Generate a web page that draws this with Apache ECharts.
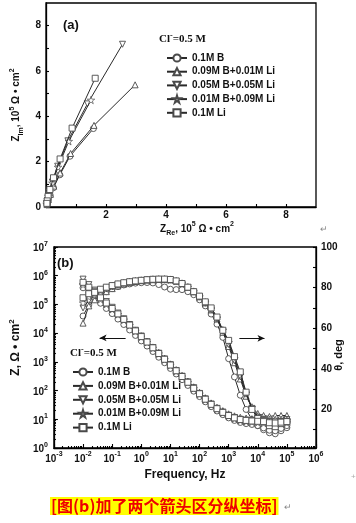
<!DOCTYPE html>
<html><head><meta charset="utf-8">
<script src="https://cdn.jsdelivr.net/npm/echarts@6/dist/echarts.min.js"></script>
<style>html,body{margin:0;padding:0;background:#fff}#c{width:356px;height:523px}</style>
</head><body><div id="c"></div>
<script>
const seriesNames = ['0.1M B','0.09M B+0.01M Li','0.05M B+0.05M Li','0.01M B+0.09M Li','0.1M Li'];

// Panel (a): Nyquist points [Z_Re, Z_Im] in 10^5 ohm cm2
const nyq_B   = [[1.58,3.46],[0.80,2.24],[0.46,1.42],[0.25,0.85],[0.14,0.52],[0.08,0.31],[0.05,0.18],[0.03,0.10]];
const nyq_B09 = [[2.97,5.39],[1.60,3.60],[0.82,2.36],[0.47,1.50],[0.26,0.92],[0.15,0.56],[0.08,0.33],[0.05,0.20],[0.03,0.12]];
const nyq_B05 = [[2.55,7.18],[1.38,4.55],[0.73,2.92],[0.39,1.80],[0.21,1.10],[0.11,0.66],[0.06,0.40],[0.04,0.24],[0.02,0.14]];
const nyq_B01 = [[1.50,4.72],[0.76,2.90],[0.40,1.76],[0.21,1.06],[0.11,0.64],[0.06,0.38],[0.04,0.23],[0.02,0.13]];
const nyq_Li  = [[1.64,5.68],[0.87,3.48],[0.47,2.12],[0.25,1.29],[0.13,0.77],[0.07,0.47],[0.04,0.27],[0.03,0.16]];

// Panel (b): frequencies (Hz)
const freq = [0.01,0.0158,0.0251,0.0398,0.0631,0.1,0.158,0.251,0.398,0.631,1,1.58,2.51,3.98,6.31,10,15.8,25.1,39.8,63.1,100,158,251,398,631,1000,1585,2512,3981,6310,10000,15850,25120,39810,63100,100000];

// |Z| (ohm cm2)
const zmod_B   = [380000,257000,170000,110000,72400,47900,30900,19950,12900,8320,5370,3550,2290,1450,933,589,380,240,151,95.5,61.7,40.7,27.5,19.5,14.5,11.2,9.12,7.76,7.08,6.61,6.03,5.01,4.17,3.98,4.79,6.03];
const zmod_B09 = [617000,417000,275000,178000,117000,75900,49000,31600,20400,12900,8130,5250,3310,2140,1350,851,537,339,214,135,87.1,56.2,37.2,26.3,20.0,15.5,13.2,11.7,11.0,10.5,10.2,10.2,10.0,10.0,10.2,10.2];
const zmod_B05 = [759000,490000,316000,200000,126000,79400,50100,31600,20000,12600,7940,5010,3160,2000,1260,794,501,316,200,126,79.4,51.3,33.9,24.0,17.8,13.8,11.5,10.0,9.33,8.91,8.71,8.51,8.32,8.13,8.32,8.51];
const zmod_B01 = [490000,339000,229000,151000,102000,67600,44700,28800,18600,11700,7410,4790,3020,1910,1200,759,479,302,191,117,75.9,49.0,32.4,22.9,17.0,13.2,10.7,9.33,8.51,8.13,7.76,7.41,7.08,6.92,7.24,7.59];
const zmod_Li  = [589000,398000,263000,170000,112000,72400,46800,30200,19100,12000,7590,4900,3090,1950,1230,776,490,309,195,120,77.6,50.1,33.1,23.4,17.4,13.5,11.2,9.77,9.12,8.71,8.51,8.32,7.59,7.41,7.94,8.32];

// phase angle theta (deg)
const theta_B   = [66,71.5,74.5,76.5,78,79.5,80.5,81.3,81.8,82.2,82.4,82.5,82.3,81.5,80.3,79.2,79,79,78,76.5,74,71,67,62,55.5,45,36,27,20,15,12,10,8.5,8,9.5,11];
const theta_B09 = [62.5,71,74,76.3,78,79.5,80.8,81.7,82.4,83,83.4,83.7,83.9,84,84,83.8,83.2,82,80.3,78,75.5,72.5,69,64.5,58,51,43,35,26.5,21,18,17,16.5,17,17,17];
const theta_B05 = [70,73.5,76,78,79.3,80.3,81.3,82,82.6,83,83.4,83.7,83.9,84,84,83.7,83,81.8,80,77.8,75.3,72.3,69,64.5,58.5,52,44,36,27.5,20.5,16,15,14,13.5,14,15];
const theta_B01 = [72.5,75.5,77.5,78.7,79.7,80.7,81.5,82.2,82.8,83.2,83.5,83.8,84,84.1,84.1,83.9,83.2,82,80.2,78,75.5,72.7,69.5,65,59,53,45,37,28,21,16.5,15,13.5,13,13.5,14.5];
const theta_Li  = [75,77,78.2,79.2,80.2,81,81.8,82.4,82.9,83.3,83.6,83.9,84.1,84.2,84.2,84,83.3,82,80.2,78,75.8,73,70,65.5,59,54,46,38.5,28.5,20,15.5,14.5,12,11.5,13,14];

// tick values
const aXLabels = [2,4,6,8];
const aYLabels = [0,2,4,6,8];
const aTicks = [1,2,3,4,5,6,7,8];
const thetaLabels = [20,40,60,80,100];
const thetaTicks = [10,20,30,40,50,60,70,80,90,100];

// arrow annotations (data coords)
const arrowLeft  = [[0.29,6800],[0.037,6800]];
const arrowRight = [[2340,55],[17000,55]];

const FONT = 'Liberation Sans, Arial, sans-serif';
const SERIF = 'Liberation Serif, Times New Roman, serif';
const STAR = 'path://M50,0 L61,35 L98,35 L68,57 L79,91 L50,70 L21,91 L32,57 L2,35 L39,35 Z';
const symbols = [['circle',0],['triangle',0],['triangle',180],[STAR,0],['rect',0]];

function minorLog(d0, d1){ const out=[]; for(let d=d0; d<d1; d++){ for(let k=2;k<=9;k++){ out.push(Math.log10(k)+d); } } return out; }

const richBase = {
  b:{fontSize:10, fontWeight:'bold', fontFamily:FONT, color:'#111', lineHeight:16},
  sup:{fontSize:7, fontWeight:'bold', fontFamily:FONT, color:'#111', lineHeight:7, verticalAlign:'top'},
  sub:{fontSize:7, fontWeight:'bold', fontFamily:FONT, color:'#111', lineHeight:7, verticalAlign:'bottom'}
};
const richTick = {
  b:{fontSize:10, fontWeight:'bold', fontFamily:FONT, color:'#111', padding:[3,0,0,0], verticalAlign:'bottom'},
  s:{fontSize:7, fontWeight:'bold', fontFamily:FONT, color:'#111', verticalAlign:'top'}
};
function powLabel(v){ const e = Math.round(Math.log10(v)); return '{b|10}{s|' + e + '}'; }

const axLine = {show:true, onZero:false, lineStyle:{color:'#000', width:1.3}};
const noLine = {show:false, onZero:false};
const tickStyle = {color:'#000', width:1.1};

function mk(i, data, xi, yi, extra){
  const s = {
    type:'line', name: seriesNames[i], data, xAxisIndex:xi, yAxisIndex:yi,
    symbol: symbols[i][0], symbolRotate: symbols[i][1], symbolSize: i===3 ? 7.5 : 6,
    showAllSymbol:true, animation:false, silent:true,
    lineStyle:{color:'#2a2a2a', width:1},
    itemStyle:{color:'#fff', borderColor:'#4a4a4a', borderWidth: i===3 ? 0.7 : 0.9},
    emphasis:{disabled:true}, z: 2 + i
  };
  return Object.assign(s, extra||{});
}
const pair = arr => freq.map((f,k)=>[f, arr[k]]);
const arrowML = pts => ({silent:true, symbol:['none','arrow'], symbolSize:[5,7], label:{show:false},
  lineStyle:{color:'#111', width:1, type:'solid'}, animation:false, data:[[{coord:pts[0]},{coord:pts[1]}]]});

const series = [
  mk(0, nyq_B, 0, 0), mk(1, nyq_B09, 0, 0), mk(2, nyq_B05, 0, 0), mk(3, nyq_B01, 0, 0), mk(4, nyq_Li, 0, 0),
  mk(0, pair(theta_B), 1, 2), mk(1, pair(theta_B09), 1, 2), mk(2, pair(theta_B05), 1, 2), mk(3, pair(theta_B01), 1, 2),
  mk(4, pair(theta_Li), 1, 2, {markLine:arrowML(arrowRight)}),
  mk(0, pair(zmod_B), 1, 1), mk(1, pair(zmod_B09), 1, 1), mk(2, pair(zmod_B05), 1, 1), mk(3, pair(zmod_B01), 1, 1),
  mk(4, pair(zmod_Li), 1, 1, {markLine:arrowML(arrowLeft)})
];

const legendCommon = {
  data: seriesNames, orient:'vertical', itemWidth:20, itemHeight:9, selectedMode:false,
  textStyle:{fontFamily:FONT, fontWeight:'bold', fontSize:10, color:'#111', lineHeight:10}
};

const option = {
  animation:false,
  backgroundColor:'#fff',
  grid:[
    {left:46, top:3, width:270, height:204, show:true, borderColor:'#000', borderWidth:1.3, backgroundColor:'transparent'},
    {left:46, top:247, width:270, height:201, show:true, borderColor:'#000', borderWidth:1.3, backgroundColor:'transparent'}
  ],
  xAxis:[
    {type:'value', gridIndex:0, min:0, max:9, axisLine:axLine, splitLine:{show:false},
     axisTick:{show:true, inside:true, length:3, customValues:aTicks, lineStyle:tickStyle},
     axisLabel:{customValues:aXLabels, margin:3, fontFamily:FONT, fontWeight:'bold', fontSize:10, color:'#111'},
     name:'{b|Z}{sub|Re}{b|, 10}{sup|5}{b| Ω • cm}{sup|2}', nameLocation:'middle', nameGap:14,
     nameTextStyle:{rich:richBase, padding:[0,0,0,32]}},
    {type:'log', gridIndex:1, min:0.001, max:1e6, logBase:10, splitNumber:9, axisLine:axLine, splitLine:{show:false},
     axisTick:{show:true, inside:true, length:4, lineStyle:tickStyle},
     axisLabel:{interval:0, margin:3, formatter:powLabel, rich:richTick},
     name:'Frequency, Hz', nameLocation:'middle', nameGap:21,
     nameTextStyle:{fontFamily:FONT, fontWeight:'bold', fontSize:12, color:'#111'}},
    {type:'value', gridIndex:1, min:-3, max:6, position:'bottom', axisLine:noLine, splitLine:{show:false},
     axisLabel:{show:false}, axisTick:{show:true, inside:true, length:2, customValues:minorLog(-3,6), lineStyle:tickStyle}}
  ],
  yAxis:[
    {type:'value', gridIndex:0, min:0, max:9, axisLine:axLine, splitLine:{show:false},
     axisTick:{show:true, inside:true, length:3, customValues:aTicks, lineStyle:tickStyle},
     axisLabel:{customValues:aYLabels, margin:5, fontFamily:FONT, fontWeight:'bold', fontSize:10, color:'#111'},
     name:'{b|Z}{sub|Im}{b|, 10}{sup|5}{b| Ω • cm}{sup|2}', nameLocation:'middle', nameGap:19,
     nameTextStyle:{rich:richBase}},
    {type:'log', gridIndex:1, min:1, max:1e7, logBase:10, splitNumber:7, position:'left', axisLine:axLine, splitLine:{show:false},
     axisTick:{show:true, inside:true, length:4, lineStyle:tickStyle},
     axisLabel:{interval:0, margin:6, formatter:powLabel, rich:richTick},
     name:'{c|Z, Ω • cm}{cs|2}', nameLocation:'middle', nameGap:25,
     nameTextStyle:{rich:{
       c:{fontSize:12, fontWeight:'bold', fontFamily:FONT, color:'#111', lineHeight:16},
       cs:{fontSize:8, fontWeight:'bold', fontFamily:FONT, color:'#111', lineHeight:8, verticalAlign:'top'}}}},
    {type:'value', gridIndex:1, min:1, max:100, position:'right', axisLine:axLine, splitLine:{show:false},
     axisTick:{show:true, inside:true, length:3, customValues:thetaTicks, lineStyle:tickStyle},
     axisLabel:{customValues:thetaLabels, margin:5, fontFamily:FONT, fontWeight:'bold', fontSize:10, color:'#111'}},
    {type:'value', gridIndex:1, min:0, max:7, position:'left', axisLine:noLine, splitLine:{show:false},
     axisLabel:{show:false}, axisTick:{show:true, inside:true, length:2, customValues:minorLog(0,7), lineStyle:tickStyle}}
  ],
  legend:[
    Object.assign({left:161, top:48, itemGap:3.7}, legendCommon),
    Object.assign({left:67, top:362, itemGap:3.9}, legendCommon)
  ],
  graphic:[
    {type:'text', x:63, y:25, style:{text:'(a)', fontFamily:FONT, fontWeight:'bold', fontSize:13, fill:'#111', verticalAlign:'middle'}},
    {type:'text', x:57, y:263, style:{text:'(b)', fontFamily:FONT, fontWeight:'bold', fontSize:13, fill:'#111', verticalAlign:'middle'}},
    {type:'text', x:159, y:39, style:{text:'{t|Cl}{s|-}{t|=0.5 M}', verticalAlign:'middle',
      rich:{t:{fontFamily:SERIF, fontWeight:'bold', fontSize:11, fill:'#111', lineHeight:14},
            s:{fontFamily:SERIF, fontWeight:'bold', fontSize:8, fill:'#111', lineHeight:8, verticalAlign:'top'}}}},
    {type:'text', x:70, y:353, style:{text:'{t|Cl}{s|-}{t|=0.5 M}', verticalAlign:'middle',
      rich:{t:{fontFamily:SERIF, fontWeight:'bold', fontSize:11, fill:'#111', lineHeight:14},
            s:{fontFamily:SERIF, fontWeight:'bold', fontSize:8, fill:'#111', lineHeight:8, verticalAlign:'top'}}}},
    {type:'text', x:339, y:355, rotation:Math.PI/2, style:{text:'θ, deg', fontFamily:FONT, fontWeight:'bold', fontSize:11, fill:'#111', align:'center', verticalAlign:'middle'}},
    {type:'text', x:50, y:506, style:{text:'[图(b)加了两个箭头区分纵坐标]', fontFamily:'Noto Sans CJK SC', fontWeight:'bold', fontSize:16, fill:'#ee0000', backgroundColor:'#ffff00', padding:[1,1,1,1], verticalAlign:'middle'}},
    {type:'text', x:284, y:508, style:{text:'↵', fontFamily:FONT, fontSize:9, fill:'#888', verticalAlign:'middle'}},
    {type:'text', x:320, y:230, style:{text:'↵', fontFamily:FONT, fontSize:9, fill:'#888', verticalAlign:'middle'}},
    {type:'text', x:351, y:477, style:{text:'+', fontFamily:FONT, fontSize:8, fill:'#aaa', verticalAlign:'middle'}}
  ],
  series
};
const chart = echarts.init(document.getElementById('c'), null, {renderer:'canvas'});
chart.setOption(option);
</script></body></html>
